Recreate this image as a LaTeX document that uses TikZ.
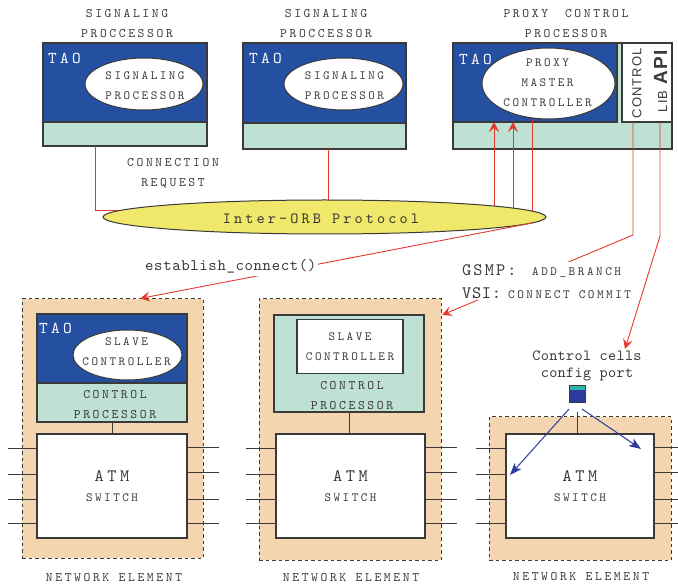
\documentclass[tikz,border=0pt]{standalone}
\usepackage{fontspec}
\usetikzlibrary{arrows.meta,shapes.geometric}
% typewriter faces: wide tracking for the capital labels, tighter for words
\newfontfamily\capsfont[LetterSpace=20]{lmmono10-regular.otf}
\newfontfamily\midfont[LetterSpace=12]{lmmono10-regular.otf}
\newfontfamily\wordfont[LetterSpace=4]{lmmono10-regular.otf}
\newfontfamily\plainfont[LetterSpace=2]{lmmono10-regular.otf}
\newfontfamily\helvfont[LetterSpace=8]{Liberation Sans}
\newcommand\fs[2]{\fontsize{#1}{#2}\selectfont}

\definecolor{taoblue}{HTML}{254FA0}
\definecolor{mint}{HTML}{BEE1D3}
\definecolor{peach}{HTML}{F3D5B0}
\definecolor{orbyellow}{HTML}{F0E86A}
\definecolor{msgred}{HTML}{E5392E}
\definecolor{portblue}{HTML}{2B3A9C}
\definecolor{portteal}{HTML}{2DB3AC}
\definecolor{ink}{HTML}{3A3A3A}

\begin{document}
\begin{tikzpicture}[x=1pt,y=-1pt,
  every node/.style={inner sep=0pt, text=ink},
  part/.style={draw=ink, line width=1.1pt},
  taobox/.style={part, fill=taoblue},
  cpbox/.style={part, fill=mint},
  plainbox/.style={part, fill=white},
  netel/.style={draw=ink, line width=1pt, dash pattern=on 3.5pt off 3pt, fill=peach},
  obj/.style={ellipse, draw=ink, line width=1pt, fill=white},
  objtext/.style={align=center, font=\capsfont\fs{12.5}{20}},
  caption/.style={font=\capsfont\fs{13}{20}, align=center},
  tao/.style={font=\capsfont\fs{16.5}{20}, text=white, anchor=west},
  atm/.style={part, fill=white, align=center, font=\capsfont\fs{17.5}{19.5}},
  msg/.style={draw=msgred, line width=0.9pt},
  msgarr/.style={msg, -{Stealth[length=10pt,width=10pt,inset=4pt]}},
  cellarr/.style={draw=portblue, line width=1pt, -{Stealth[length=12pt,width=9pt,inset=3pt]}},
  trunk/.style={draw=ink, line width=1pt}]
\useasboundingbox (0,0) rectangle (678,585);

% ---------- captions over the processors ----------
\node[caption] (ttl1) at (127,24) {SIGNALING\\PROCCESSOR};
\node[caption] (ttl2) at (326,24) {SIGNALING\\PROCCESSOR};
\node[caption] (ttl3) at (566,24) {PROXY\hspace{17pt}CONTROL\\PROCESSOR};

% ---------- signaling processor 1 ----------
\node[taobox, minimum width=164pt, minimum height=79pt] (b1) at (125,82.5) {};
\node[cpbox, minimum width=164pt, minimum height=24pt] (b1g) at (125,134) {};
\node[tao] (tao1) at (48,58) {TAO};
\node[obj, minimum width=118pt, minimum height=52pt] (sp1) at (144,84) {};
\node[objtext] (sp1t) at (145,86) {SIGNALING\\PROCESSOR};

% ---------- signaling processor 2 ----------
\node[taobox, minimum width=163pt, minimum height=80pt] (b2) at (324.5,83) {};
\node[cpbox, minimum width=163pt, minimum height=26pt] (b2g) at (324.5,136) {};
\node[tao] (tao2) at (249,58) {TAO};
\node[obj, minimum width=119pt, minimum height=52pt] (sp2) at (343.5,84) {};
\node[objtext] (sp2t) at (344.5,86) {SIGNALING\\PROCESSOR};

% ---------- proxy control processor ----------
\node[cpbox, minimum width=219pt, minimum height=106pt] (b3) at (562.5,96) {};
\node[taobox, minimum width=164pt, minimum height=79pt] (b3b) at (535,82.5) {};
\node[plainbox, minimum width=50pt, minimum height=79pt] (lib) at (647,82.5) {};
\node[tao] (tao3) at (459,59) {TAO};
\node[obj, minimum width=133pt, minimum height=71pt] (pmc) at (548.5,83.5) {};
\node[objtext] (pmct) at (547.5,82.5) {PROXY\\MASTER\\CONTROLLER};
\node[font=\helvfont\fs{13}{15}, rotate=90] (ctl) at (637,83.5) {CONTROL};
\node[font=\helvfont\fs{13}{15}, rotate=90] (libapi) at (660.5,81) {LIB\hspace{6pt}{\bfseries\fs{19}{20}API}};

\node[caption] (creq) at (173,173) {CONNECTION\\REQUEST};

% ---------- network element 1 ----------
\node[netel, minimum width=181pt, minimum height=259pt] (ne1) at (112.5,428.5) {};
\node[taobox, minimum width=150pt, minimum height=69pt] (ne1b) at (112,348.5) {};
\node[cpbox, minimum width=150pt, minimum height=39pt] (ne1g) at (112,402.5) {};
\node[tao] (tao4) at (39,328) {TAO};
\node[obj, minimum width=109pt, minimum height=50pt] (sc1) at (127.5,355) {};
\node[objtext] (sc1t) at (126.5,352) {SLAVE\\CONTROLLER};
\node[caption] (cp1) at (115,404.5) {CONTROL\\PROCESSOR};
\node[atm, minimum width=150pt, minimum height=104pt] (atm1) at (112,486) {ATM\\{\fs{12.5}{19.5}SWITCH}};
\draw[trunk] (ne1g.south) -- (ne1g.south |- atm1.north);
\node[caption] (nel1) at (114,578) {NETWORK ELEMENT};

% ---------- network element 2 ----------
\node[netel, minimum width=182pt, minimum height=261pt] (ne2) at (350,429.5) {};
\node[cpbox, minimum width=150pt, minimum height=97pt] (ne2g) at (349,363.5) {};
\node[plainbox, minimum width=106pt, minimum height=54pt, align=center, font=\capsfont\fs{12.5}{20}] (sc2) at (350,346.5) {SLAVE\\CONTROLLER};
\node[caption] (cp2) at (352,395.5) {CONTROL\\PROCESSOR};
\node[atm, minimum width=149pt, minimum height=104pt] (atm2) at (350.5,486) {ATM\\{\fs{12.5}{19.5}SWITCH}};
\draw[trunk] (ne2g.south) -- (ne2g.south |- atm2.north);
\node[caption] (nel2) at (351,578) {NETWORK ELEMENT};

% ---------- network element 3 ----------
\node[netel, minimum width=182pt, minimum height=143pt] (ne3) at (580,488.5) {};
\node[atm, minimum width=148pt, minimum height=104pt] (atm3) at (580,486) {ATM\\{\fs{12.5}{19.5}SWITCH}};
\node[caption] (nel3) at (581,577) {NETWORK ELEMENT};

% switch ports
\foreach \yl/\yr in {449/448,475/473,499/499,523/523}{
  \draw[trunk] (atm1.west) ++(0,\yl-486) -- ++(-28,0);
  \draw[trunk] (atm1.east) ++(0,\yr-486) -- ++(31,0);
  \draw[trunk] (atm2.west) ++(0,\yl-486) -- ++(-29,0);
  \draw[trunk] (atm2.east) ++(0,\yr-486) -- ++(31,0);
  \draw[trunk] (atm3.west) ++(0,\yl-486) -- ++(-29,0);
  \draw[trunk] (atm3.east) ++(0,\yr-486) -- ++(26,0);
}

% ---------- message lines into the ORB ----------
\coordinate (sp1out) at (95,146);
\coordinate (orbin1) at (140,210);
\coordinate (sp2out) at (328,149);
\coordinate (orbin2) at (328,215);
\coordinate (o1) at (494,215);  \coordinate (pm1) at (494,122);
\coordinate (o2) at (513,215);  \coordinate (pm2) at (513,122);
\coordinate (o3) at (532,215);  \coordinate (pm3) at (532,119);
\draw[msg] (sp1out) |- (orbin1);
\draw[msg] (sp2out) -- (orbin2);
\draw[msgarr] (o1) -- (pm1);
\draw[msgarr] (o2) -- (pm2);
\draw[msg] (o3) -- (pm3);

\node[ellipse, draw=ink, line width=1pt, fill=orbyellow, minimum width=443pt, minimum height=34pt] (orb) at (324.5,217) {};
\node[font=\capsfont\fs{15.5}{18}, anchor=base, text=black!80] (orblbl) at (321,223.5) {Inter-ORB Protocol};

% ---------- commands down to the network elements ----------
\coordinate (ecstart) at (532,223);
\coordinate (ne1in) at (140,298.5);
\draw[msgarr] (ecstart) -- (ne1in);

\coordinate (g0) at (633,122); \coordinate (g1) at (633,235);
\coordinate (ne2in) at (442,315);
\draw[msgarr, line join=round] (g0) -- (g1) -- (ne2in);

\coordinate (a0) at (660,122); \coordinate (a1) at (660,236);
\coordinate (cfgtip) at (625,349);
\draw[msgarr, line join=round] (a0) -- (a1) -- (cfgtip);

\node[fill=white, inner sep=2pt, anchor=base west, font=\wordfont\fs{16}{20}] (ec) at (143,271) {establish\_connect()};
\node[fill=white, inner sep=2pt, anchor=north west, align=left, font=\midfont\fs{17.5}{23}] (gsmp) at (460,262)
  {\makebox[70pt][l]{GSMP:}{\capsfont\fs{12.6}{23}ADD\_BRANCH}\\\makebox[46pt][l]{\wordfont VSI:}{\capsfont\fs{12.6}{23}CONNECT COMMIT}};

% ---------- control cell port ----------
\node[font=\plainfont\fs{15.5}{17}, align=center, anchor=north] (cfg) at (587,351) {Control cells\\config port};
\node[draw=ink, line width=0.8pt, fill=portblue, minimum width=16pt, minimum height=17pt,
  path picture={\fill[portteal] (path picture bounding box.north west) rectangle ([yshift=-5pt]path picture bounding box.north east);}] (port) at (577,393.5) {};
\coordinate (p3) at (577,412);
\draw[trunk] (p3) -- (p3 |- atm3.north);
\coordinate (pl) at (569,409); \coordinate (swl) at (510,475);
\coordinate (pr) at (582,409); \coordinate (swr) at (641,449);
\draw[cellarr] (pl) -- (swl);
\draw[cellarr] (pr) -- (swr);
\end{tikzpicture}
\end{document}
